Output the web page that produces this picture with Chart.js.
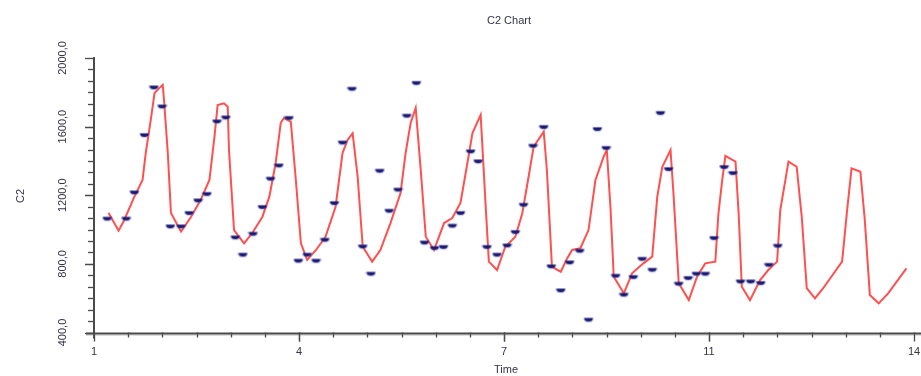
<!DOCTYPE html>
<html><head><meta charset="utf-8">
<script src="https://cdn.jsdelivr.net/npm/chart.js@4"></script>
<style>html,body{margin:0;padding:0;background:#fff;overflow:hidden}</style>
</head><body>
<canvas id="c" width="921" height="376" style="width:921px;height:376px;display:block"></canvas>
<script>
const chartTitle = 'C2 Chart';
const xTitle = 'Time';
const yTitle = 'C2';
const xTickValues = [1, 4.25, 7.5, 10.75, 14];
const xTickLabels = ['1', '4', '7', '11', '14'];
const yTickValues = [400, 800, 1200, 1600, 2000];
const yTickLabels = ['400,0', '800,0', '1200,0', '1600,0', '2000,0'];

// fitted curve (red)
const fitTime = [1.23,1.39,1.48,1.64,1.77,1.82,1.90,1.96,2.03,2.09,2.11,2.17,2.22,2.38,2.54,2.69,2.83,2.91,2.96,3.06,3.12,3.14,3.22,3.38,3.51,3.67,3.78,3.88,3.96,4.01,4.12,4.20,4.28,4.38,4.52,4.67,4.83,4.94,5.02,5.10,5.18,5.26,5.41,5.54,5.70,5.86,5.94,6.02,6.10,6.18,6.26,6.39,6.55,6.68,6.81,6.92,7.00,7.13,7.21,7.26,7.39,7.52,7.68,7.79,7.89,7.97,8.13,8.18,8.26,8.40,8.50,8.58,8.71,8.84,8.95,9.08,9.13,9.19,9.24,9.40,9.53,9.71,9.85,9.93,10.01,10.14,10.19,10.27,10.43,10.56,10.69,10.85,10.90,10.96,11.01,11.17,11.22,11.27,11.40,11.56,11.69,11.83,11.88,12.01,12.14,12.22,12.30,12.43,12.56,12.86,12.94,13.01,13.15,13.22,13.30,13.44,13.59,13.88];
const fitC2 = [1098,993,1056,1192,1289,1446,1639,1796,1823,1843,1755,1446,1097,988,1075,1172,1289,1541,1726,1736,1716,1464,997,920,980,1075,1192,1388,1621,1650,1629,1289,920,823,881,958,1133,1446,1522,1561,1308,900,813,881,1038,1213,1446,1621,1709,1347,958,881,1038,1067,1155,1388,1563,1668,1133,813,764,900,958,1095,1308,1483,1570,1347,784,754,832,881,891,997,1289,1425,1464,1114,725,628,745,803,842,1192,1366,1464,1192,687,589,725,803,813,1095,1289,1429,1396,1095,667,589,706,764,813,1114,1396,1366,1075,658,599,658,813,1114,1357,1337,1056,619,570,628,774];

// observations (blue markers)
const obsTime = [1.21,1.51,1.64,1.80,1.95,2.08,2.21,2.38,2.51,2.65,2.79,2.95,3.09,3.24,3.36,3.52,3.67,3.80,3.93,4.09,4.24,4.38,4.52,4.66,4.81,4.94,5.09,5.26,5.39,5.53,5.68,5.82,5.96,6.11,6.24,6.40,6.54,6.68,6.81,6.97,7.09,7.23,7.39,7.55,7.68,7.81,7.96,8.13,8.25,8.40,8.54,8.70,8.84,8.98,9.12,9.27,9.40,9.55,9.69,9.85,9.98,10.11,10.27,10.42,10.55,10.69,10.83,10.99,11.13,11.25,11.41,11.57,11.70,11.84];
const obsC2 = [1062,1062,1215,1549,1827,1716,1017,1017,1095,1168,1206,1629,1652,953,852,974,1130,1295,1372,1649,817,852,817,939,1153,1506,1819,900,741,1341,1108,1231,1662,1853,923,891,897,1021,1095,1454,1396,897,852,906,984,1143,1487,1596,784,644,807,875,473,1584,1474,729,619,722,828,764,1678,1351,683,716,741,741,949,1363,1328,696,696,687,793,904];

const FONT = '"Liberation Sans", Arial, sans-serif';
const TEXT = '#34344a';
const AXIS = '#4a4a4a';

function markerCanvas() {
  const c = document.createElement('canvas');
  c.width = 11; c.height = 7;
  const g = c.getContext('2d');
  g.fillStyle = 'rgba(120,120,200,0.4)';
  g.beginPath(); g.ellipse(5.5, 1.5, 5.5, 4.8, 0, 0, Math.PI); g.closePath(); g.fill();
  g.fillStyle = '#1a1a72';
  g.beginPath(); g.ellipse(5.5, 1.5, 4.3, 3.6, 0, 0, Math.PI); g.closePath(); g.fill();
  return c;
}

const axesPlugin = {
  id: 'axesPlugin',
  afterDraw(chart) {
    const ctx = chart.ctx, xs = chart.scales.x, ys = chart.scales.y, a = chart.chartArea;
    ctx.save();
    ctx.strokeStyle = AXIS; ctx.lineWidth = 2;
    ctx.beginPath(); ctx.moveTo(a.left, a.top - 1); ctx.lineTo(a.left, a.bottom + 6); ctx.stroke();
    ctx.beginPath(); ctx.moveTo(a.left - 8, a.bottom + 1); ctx.lineTo(921, a.bottom + 1); ctx.stroke();
    ctx.strokeStyle = 'rgba(120,120,120,0.5)'; ctx.lineWidth = 1;
    ctx.beginPath(); ctx.moveTo(a.left - 8, a.bottom + 2.5); ctx.lineTo(921, a.bottom + 2.5); ctx.stroke();
    ctx.strokeStyle = AXIS; ctx.lineWidth = 1.3;
    for (let i = 0; i < xTickValues.length - 1; i++) {
      const step = (xTickValues[i + 1] - xTickValues[i]) / 6;
      for (let k = 0; k <= 6; k++) {
        const px = Math.round(xs.getPixelForValue(xTickValues[i] + k * step)) + 0.5;
        const len = (k === 0 || k === 6) ? 9 : 5;
        ctx.beginPath(); ctx.moveTo(px, a.bottom); ctx.lineTo(px, a.bottom + len); ctx.stroke();
      }
    }
    for (let i = 0; i < yTickValues.length - 1; i++) {
      const step = (yTickValues[i + 1] - yTickValues[i]) / 6;
      for (let k = 0; k <= 6; k++) {
        const py = Math.round(ys.getPixelForValue(yTickValues[i] + k * step)) + 0.5;
        const len = (k === 0 || k === 6) ? 9 : 6;
        ctx.beginPath(); ctx.moveTo(a.left - len, py); ctx.lineTo(a.left, py); ctx.stroke();
      }
    }
    ctx.fillStyle = TEXT;
    ctx.font = '11px ' + FONT;
    ctx.textAlign = 'center'; ctx.textBaseline = 'middle';
    xTickValues.forEach((v, i) => ctx.fillText(xTickLabels[i], xs.getPixelForValue(v), 352));
    yTickValues.forEach((v, i) => {
      ctx.save(); ctx.translate(63, ys.getPixelForValue(v)); ctx.rotate(-Math.PI / 2);
      ctx.fillText(yTickLabels[i], 0, 0); ctx.restore();
    });
    ctx.fillText(xTitle, 506, 370);
    ctx.save(); ctx.translate(21, 196); ctx.rotate(-Math.PI / 2); ctx.fillText(yTitle, 0, 0); ctx.restore();
    ctx.fillText(chartTitle, 509, 21);
    ctx.restore();
  }
};

new Chart(document.getElementById('c'), {
  type: 'scatter',
  data: {
    datasets: [
      {
        type: 'line',
        data: fitTime.map((t, i) => ({ x: t, y: fitC2[i] })),
        borderColor: 'rgba(255,60,60,0.9)',
        borderWidth: 2,
        pointRadius: 0,
        tension: 0,
        fill: false,
        order: 2
      },
      {
        data: obsTime.map((t, i) => ({ x: t, y: obsC2[i] })),
        pointStyle: markerCanvas(),
        pointRadius: 5,
        order: 1
      }
    ]
  },
  options: {
    responsive: false,
    animation: false,
    devicePixelRatio: 1,
    layout: { padding: { left: 94, right: 7, top: 58, bottom: 43.5 } },
    plugins: { legend: { display: false }, tooltip: { enabled: false }, title: { display: false } },
    scales: {
      x: { type: 'linear', min: 1, max: 14, display: false },
      y: { type: 'linear', min: 400, max: 2000, display: false }
    },
    clip: false
  },
  plugins: [axesPlugin, {
    id: 'bg',
    beforeDraw(chart) { const c = chart.ctx; c.save(); c.fillStyle = '#fff'; c.fillRect(0, 0, chart.width, chart.height); c.restore(); }
  }]
});
</script>
</body></html>
